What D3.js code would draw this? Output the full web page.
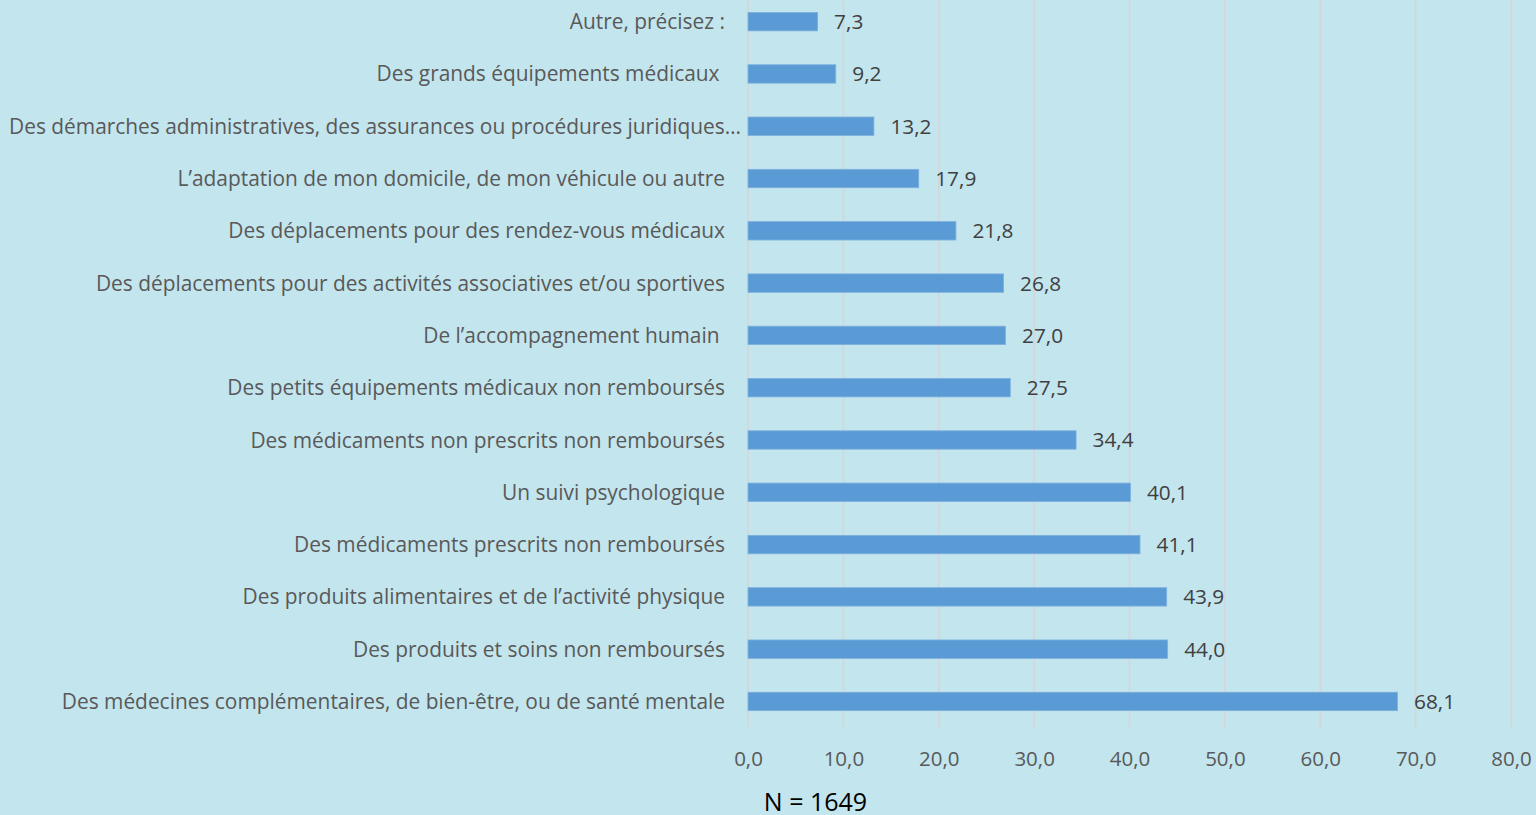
<!DOCTYPE html>
<html>
<head>
<meta charset="utf-8">
<script src="https://cdn.jsdelivr.net/npm/d3@7"></script>
<style>
  html, body { margin: 0; padding: 0; background: #C3E5EE; overflow: hidden; }
  svg { display: block; }
</style>
</head>
<body>
<svg id="chart" width="1536" height="815"></svg>
<script>
// Categories, top to bottom
const categories = [
  "Autre, précisez :",
  "Des grands équipements médicaux ",
  "Des démarches administratives, des assurances ou procédures juridiques…",
  "L’adaptation de mon domicile, de mon véhicule ou autre",
  "Des déplacements pour des rendez-vous médicaux",
  "Des déplacements pour des activités associatives et/ou sportives",
  "De l’accompagnement humain ",
  "Des petits équipements médicaux non remboursés",
  "Des médicaments non prescrits non remboursés",
  "Un suivi psychologique",
  "Des médicaments prescrits non remboursés",
  "Des produits alimentaires et de l’activité physique",
  "Des produits et soins non remboursés",
  "Des médecines complémentaires, de bien-être, ou de santé mentale"
];
const values = [7.3, 9.2, 13.2, 17.9, 21.8, 26.8, 27.0, 27.5, 34.4, 40.1, 41.1, 43.9, 44.0, 68.1];
const xTicks = [0, 10, 20, 30, 40, 50, 60, 70, 80];
const note = "N = 1649";

const font = "'Open Sans', sans-serif";
const fmt = v => v.toFixed(1).replace(".", ",");

const svg = d3.select("#chart");

const x = d3.scaleLinear().domain([0, 80]).range([748, 1511]);
const y = d3.scaleBand().domain(categories).range([-4.5, 727.6])
  .paddingInner(0.648).paddingOuter(0.324);

// vertical gridlines
svg.append("g").selectAll("line").data(xTicks).join("line")
  .attr("x1", d => x(d)).attr("x2", d => x(d))
  .attr("y1", 0).attr("y2", 727.6)
  .attr("stroke", "#D3D7DB").attr("stroke-width", 1.8);

// bars
svg.append("g").selectAll("rect").data(values).join("rect")
  .attr("x", x(0))
  .attr("y", (d, i) => y(categories[i]))
  .attr("width", d => x(d) - x(0))
  .attr("height", y.bandwidth())
  .attr("fill", "#5B9BD5")
  .attr("stroke", "#7DB0DE").attr("stroke-width", 0.8);

// value labels
svg.append("g").selectAll("text").data(values).join("text")
  .attr("x", d => x(d) + 16.5)
  .attr("y", (d, i) => y(categories[i]) + y.bandwidth() / 2)
  .attr("dy", "0.36em")
  .attr("font-family", font).attr("font-size", 20.8)
  .attr("fill", "#404040")
  .text(fmt);

// category labels
svg.append("g").selectAll("text").data(categories).join("text")
  .attr("x", d => d.length > 65 ? 741 : 725)
  .attr("y", d => y(d) + y.bandwidth() / 2)
  .attr("dy", "0.36em")
  .attr("text-anchor", "end")
  .attr("xml:space", "preserve")
  .style("white-space", "pre")
  .attr("font-family", font).attr("font-size", 20.9)
  .attr("fill", "#595959")
  .text(d => d);

// x axis tick labels
const axis = d3.axisBottom(x).tickValues(xTicks).tickFormat(fmt).tickSize(0).tickPadding(0);
const gx = svg.append("g").attr("transform", "translate(0,751)").call(axis);
gx.select(".domain").remove();
gx.selectAll("text")
  .attr("font-family", font).attr("font-size", 20.5)
  .attr("fill", "#595959").attr("dy", "0.71em");

// sample size note
svg.append("text")
  .attr("x", 815.5).attr("y", 811)
  .attr("text-anchor", "middle")
  .attr("font-family", font).attr("font-size", 25)
  .attr("fill", "#000")
  .text(note);
</script>
</body>
</html>
